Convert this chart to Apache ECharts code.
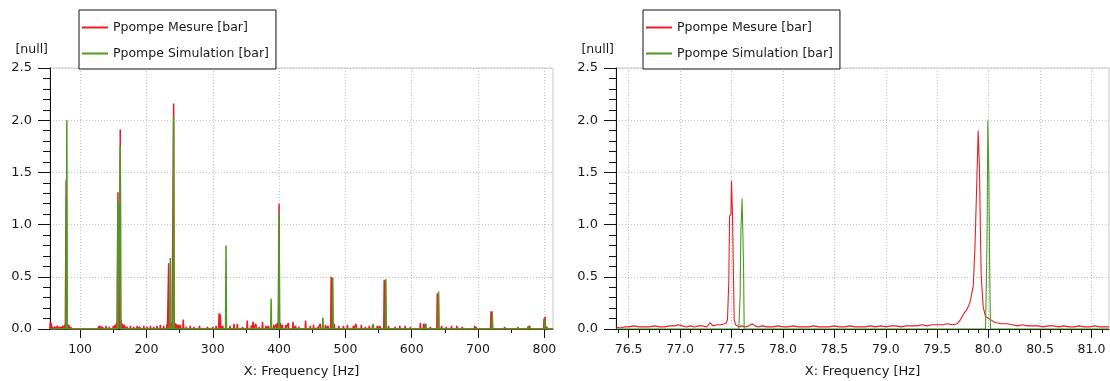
<!DOCTYPE html>
<html><head><meta charset="utf-8">
<script src="https://cdn.jsdelivr.net/npm/echarts@6/dist/echarts.min.js"></script>
<style>html,body{margin:0;padding:0;background:#fff}#c{width:1110px;height:381px}</style>
</head><body><div id="c"></div><script>
const seriesNames = ['Ppompe Mesure [bar]', 'Ppompe Simulation [bar]'];
const yAxisName = '[null]';
const xAxisName = 'X: Frequency [Hz]';

// Left chart: frequency range and ticks
const leftRange = [54.6, 813];
const leftMajorTicks = [100, 200, 300, 400, 500, 600, 700, 800];
const leftMinorTicks = [150, 250, 350, 450, 550, 650, 750];

// Right chart: frequency range and ticks
const rightRange = [76.377, 81.17];
const rightMajorTicks = [76.5, 77.0, 77.5, 78.0, 78.5, 79.0, 79.5, 80.0, 80.5, 81.0];
const rightMinorTicks = [76.4, 76.6, 76.7, 76.8, 76.9, 77.1, 77.2, 77.3, 77.4, 77.6, 77.7, 77.8, 77.9,
  78.1, 78.2, 78.3, 78.4, 78.6, 78.7, 78.8, 78.9, 79.1, 79.2, 79.3, 79.4, 79.6, 79.7, 79.8, 79.9,
  80.1, 80.2, 80.3, 80.4, 80.6, 80.7, 80.8, 80.9, 81.1];

// Left chart: spectral lines (measured)
const leftMesureHz = [55, 56.5, 58, 62, 66, 70, 74, 77, 79, 81, 83, 86,
  128, 131, 134, 139, 144, 150, 153, 155, 157, 159, 160.5, 162, 164, 167, 171, 176, 181, 186, 190, 196, 201, 206, 211, 216, 221, 226,
  231, 233.5, 236, 238, 241, 243, 245, 248, 251, 255.5, 260, 266, 272, 280, 292, 300, 305,
  309.5, 311.5, 315, 320, 326, 332, 337, 345, 352, 358, 361, 365, 370, 375, 380, 384, 392, 396, 398, 400, 402, 405, 410, 414, 421, 425, 430,
  440, 447, 452, 458, 462, 470, 474, 478.5, 480, 483, 490, 497, 503, 512, 516, 524, 530, 536, 541, 548, 552,
  558.5, 560, 565, 575, 582, 590, 598, 613, 618, 621, 628, 638.5, 640, 645, 652, 660, 668, 676, 695, 697,
  719.5, 721, 740, 760, 775, 778, 799.5, 801, 804];
const leftMesureVal = [0.07, 0.06, 0.02, 0.02, 0.03, 0.02, 0.03, 0.04, 1.43, 0.05, 0.04, 0.02,
  0.03, 0.03, 0.02, 0.03, 0.02, 0.03, 0.04, 0.06, 1.31, 0.07, 1.91, 0.08, 0.05, 0.04, 0.02, 0.03, 0.02, 0.03, 0.02, 0.03, 0.02, 0.03, 0.02, 0.03, 0.04, 0.03,
  0.05, 0.63, 0.05, 0.06, 2.16, 0.06, 0.05, 0.04, 0.04, 0.09, 0.02, 0.03, 0.02, 0.03, 0.02, 0.02, 0.03,
  0.15, 0.14, 0.03, 0.03, 0.03, 0.05, 0.05, 0.02, 0.08, 0.03, 0.07, 0.05, 0.02, 0.07, 0.03, 0.03, 0.04, 0.05, 0.06, 1.20, 0.06, 0.04, 0.04, 0.06, 0.07, 0.03, 0.02,
  0.08, 0.03, 0.04, 0.02, 0.05, 0.04, 0.03, 0.50, 0.49, 0.05, 0.03, 0.03, 0.04, 0.03, 0.05, 0.04, 0.02, 0.03, 0.04, 0.03, 0.03,
  0.47, 0.46, 0.03, 0.02, 0.03, 0.03, 0.02, 0.06, 0.05, 0.05, 0.02, 0.34, 0.33, 0.03, 0.02, 0.03, 0.03, 0.02, 0.03, 0.02,
  0.17, 0.17, 0.02, 0.02, 0.02, 0.03, 0.10, 0.12, 0.02];

// Left chart: spectral lines (simulated)
const leftSimHz = [79.3, 80, 157, 160.5, 236, 241, 320, 388, 400, 466, 481, 542, 561, 621, 640.5, 721.5, 776, 800.5];
const leftSimVal = [1.24, 2.00, 1.21, 1.75, 0.68, 2.04, 0.80, 0.29, 1.12, 0.11, 0.49, 0.05, 0.48, 0.05, 0.36, 0.15, 0.03, 0.09];

// Right chart: measured spectrum (zoom)
const rightMesureHz = [76.38, 76.42, 76.46, 76.50, 76.55, 76.60, 76.65, 76.70, 76.75, 76.80, 76.85, 76.90, 76.95, 76.98,
  77.02, 77.06, 77.10, 77.14, 77.18, 77.22, 77.26, 77.29, 77.32, 77.36, 77.40, 77.43, 77.45,
  77.461, 77.474, 77.481, 77.494, 77.50, 77.51, 77.52, 77.526, 77.54, 77.57, 77.60, 77.63, 77.67, 77.70, 77.73, 77.76,
  77.80, 77.85, 77.90, 77.95, 78.00, 78.05, 78.10, 78.15, 78.20, 78.25, 78.30, 78.35, 78.40, 78.45, 78.50, 78.55,
  78.60, 78.65, 78.70, 78.75, 78.80, 78.85, 78.90, 78.95, 79.00, 79.05, 79.10, 79.15, 79.20, 79.25, 79.30, 79.35,
  79.40, 79.45, 79.50, 79.55, 79.60, 79.65, 79.694, 79.72, 79.76, 79.79, 79.817, 79.85, 79.866, 79.88, 79.888,
  79.898, 79.911, 79.92, 79.928, 79.947, 79.969, 80.018, 80.05, 80.08, 80.12, 80.18, 80.23, 80.28, 80.33, 80.38,
  80.43, 80.48, 80.53, 80.58, 80.63, 80.68, 80.73, 80.78, 80.83, 80.88, 80.93, 80.98, 81.03, 81.08, 81.13, 81.17];
const rightMesureVal = [0.02, 0.01, 0.02, 0.02, 0.03, 0.02, 0.02, 0.02, 0.03, 0.02, 0.02, 0.03, 0.03, 0.04,
  0.03, 0.02, 0.03, 0.02, 0.03, 0.03, 0.02, 0.06, 0.03, 0.04, 0.04, 0.05, 0.06,
  0.09, 0.47, 1.08, 1.10, 1.42, 1.08, 0.44, 0.09, 0.04, 0.02, 0.03, 0.02, 0.03, 0.05, 0.03, 0.02,
  0.03, 0.02, 0.02, 0.03, 0.02, 0.02, 0.03, 0.02, 0.02, 0.02, 0.03, 0.02, 0.02, 0.02, 0.03, 0.02,
  0.02, 0.03, 0.02, 0.02, 0.02, 0.03, 0.02, 0.03, 0.02, 0.03, 0.03, 0.02, 0.03, 0.03, 0.03, 0.04,
  0.03, 0.04, 0.04, 0.04, 0.05, 0.04, 0.05, 0.08, 0.15, 0.19, 0.25, 0.41, 0.76, 1.24, 1.52,
  1.90, 1.52, 0.92, 0.50, 0.21, 0.12, 0.09, 0.07, 0.06, 0.05, 0.05, 0.04, 0.03, 0.04, 0.03,
  0.03, 0.03, 0.02, 0.03, 0.03, 0.02, 0.03, 0.02, 0.02, 0.03, 0.02, 0.02, 0.03, 0.02, 0.02, 0.02];

// Right chart: simulated spectrum (zoom)
const rightSimHz = [76.377, 77.571, 77.584, 77.591, 77.603, 77.617, 77.623, 79.969, 79.979, 79.986, 79.992, 80.002, 80.011, 80.018, 81.17];
const rightSimVal = [0, 0, 0.33, 0.94, 1.25, 0.60, 0, 0, 0.50, 1.03, 2.00, 1.48, 0.50, 0, 0];

const RED = '#ec1c24', GREEN = '#4a9b21';
const FONT = 'DejaVu Sans';
const TXT = '#1a1a1a';

function pairs(hz, val) { return hz.map((h, i) => [h, val[i]]); }
function spikes(hz, val, range) {
  const pts = [[range[0], 0], [range[1], 0]];
  hz.forEach((h, i) => { pts.push([h - 0.7, 0], [h, val[i]], [h + 0.7, 0]); });
  pts.sort((a, b) => a[0] - b[0]);
  return pts;
}

function yAxisCfg(gi) {
  return {
    type: 'value', gridIndex: gi, min: 0, max: 2.5, interval: 0.5,
    name: yAxisName, nameLocation: 'end', nameGap: 12,
    nameTextStyle: { fontFamily: FONT, fontSize: 12.5, color: TXT, align: 'right', padding: [0, 2, 0, 0] },
    axisLine: { show: true, lineStyle: { color: '#111', width: 1 } },
    axisTick: { show: true, length: 12, lineStyle: { color: '#111' } },
    minorTick: { show: true, splitNumber: 5, length: 7, lineStyle: { color: '#111' } },
    axisLabel: { margin: 18, fontFamily: FONT, fontSize: 13, color: TXT, formatter: v => v.toFixed(1) },
    splitLine: { show: true, lineStyle: { color: '#c4c4c4', type: [1, 2], width: 1 } }
  };
}
function xMajor(gi, range, ticks, dec) {
  return {
    type: 'value', gridIndex: gi, min: range[0], max: range[1], position: 'bottom',
    name: xAxisName, nameLocation: 'middle', nameGap: 36,
    nameTextStyle: { fontFamily: FONT, fontSize: 13, color: TXT },
    axisLine: { show: true, onZero: false, lineStyle: { color: '#111', width: 1 } },
    axisTick: { show: true, length: 9, customValues: ticks, lineStyle: { color: '#111' } },
    axisLabel: { margin: 14, fontFamily: FONT, fontSize: 12.5, color: TXT, customValues: ticks,
      formatter: v => v.toFixed(dec) },
    splitLine: { show: true, lineStyle: { color: '#c4c4c4', type: [1, 2], width: 1 } }
  };
}
function xMinor(gi, range, ticks) {
  return {
    type: 'value', gridIndex: gi, min: range[0], max: range[1], position: 'bottom',
    axisLine: { show: false, onZero: false },
    axisTick: { show: true, length: 4, customValues: ticks, lineStyle: { color: '#111' } },
    axisLabel: { show: false },
    splitLine: { show: false }
  };
}
function legendCfg(left) {
  return {
    left: left, top: 10, orient: 'vertical', padding: [11, 7, 9, 3], itemGap: 13,
    itemWidth: 26, itemHeight: 2, icon: 'rect', selectedMode: false,
    borderColor: '#111', borderWidth: 1, backgroundColor: '#fff',
    textStyle: { fontFamily: FONT, fontSize: 12.5, color: TXT },
    data: seriesNames
  };
}

const chart = echarts.init(document.getElementById('c'), null, { renderer: 'canvas' });
chart.setOption({
  animation: false,
  backgroundColor: '#fff',
  legend: [legendCfg(79), legendCfg(643)],
  grid: [
    { left: 50, top: 68, width: 503, height: 261, show: true, borderColor: '#c8c8c8', borderWidth: 1,
      containLabel: false, outerBoundsMode: 'none' },
    { left: 616, top: 68, width: 493, height: 261, show: true, borderColor: '#c8c8c8', borderWidth: 1,
      containLabel: false, outerBoundsMode: 'none' }
  ],
  xAxis: [
    xMajor(0, leftRange, leftMajorTicks, 0), xMinor(0, leftRange, leftMinorTicks),
    xMajor(1, rightRange, rightMajorTicks, 1), xMinor(1, rightRange, rightMinorTicks)
  ],
  yAxis: [yAxisCfg(0), yAxisCfg(1)],
  series: [
    { name: seriesNames[0], type: 'line', xAxisIndex: 0, yAxisIndex: 0, showSymbol: false, symbol: 'none',
      lineStyle: { color: RED, width: 1.5 }, itemStyle: { color: RED }, clip: true,
      data: spikes(leftMesureHz, leftMesureVal, leftRange) },
    { name: seriesNames[1], type: 'line', xAxisIndex: 0, yAxisIndex: 0, showSymbol: false, symbol: 'none',
      lineStyle: { color: GREEN, width: 1.5 }, itemStyle: { color: GREEN }, clip: true,
      data: spikes(leftSimHz, leftSimVal, leftRange) },
    { name: seriesNames[0], type: 'line', xAxisIndex: 2, yAxisIndex: 1, showSymbol: false, symbol: 'none',
      lineStyle: { color: RED, width: 1.1 }, itemStyle: { color: RED }, clip: true,
      data: pairs(rightMesureHz, rightMesureVal) },
    { name: seriesNames[1], type: 'line', xAxisIndex: 2, yAxisIndex: 1, showSymbol: false, symbol: 'none',
      lineStyle: { color: GREEN, width: 1.1 }, itemStyle: { color: GREEN }, clip: true,
      data: pairs(rightSimHz, rightSimVal) }
  ]
});
</script></body></html>
